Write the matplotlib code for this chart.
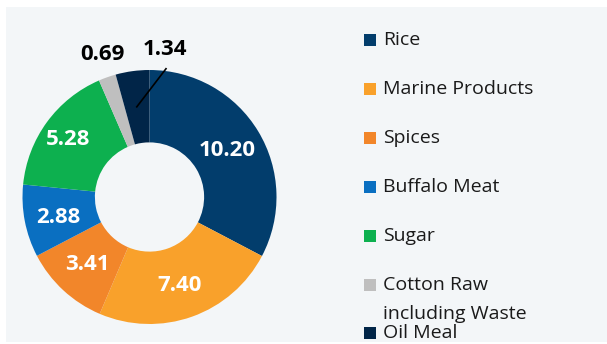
import matplotlib.pyplot as plt
from matplotlib.patches import Rectangle

# export values by commodity
products = ["Rice", "Marine Products", "Spices", "Buffalo Meat", "Sugar",
            "Cotton Raw\nincluding Waste", "Oil Meal"]
values = [10.20, 7.40, 3.41, 2.88, 5.28, 0.69, 1.34]
colors = ["#023d6c", "#f9a12b", "#f2862a", "#0a6fc1", "#0db04f", "#bfbfbf", "#012548"]

plt.rcParams['font.family'] = ['Open Sans', 'DejaVu Sans']

W, H = 607, 344
fig = plt.figure(figsize=(W / 100, H / 100), dpi=100)
fig.patch.set_facecolor("white")

# light panel behind everything
fig.patches.append(Rectangle((6 / W, 2 / H), 1, (H - 9) / H,
                             transform=fig.transFigure, facecolor="#f3f6f8",
                             edgecolor="none", zorder=-5))

# donut axes: centre (149.5, 197), outer radius 127 px
cx, cy, r = 149.5, 197, 127
ax = fig.add_axes([(cx - r) / W, (H - cy - r) / H, 2 * r / W, 2 * r / H])
ax.set_facecolor("none")

ax.pie(values, colors=colors, startangle=90, counterclock=False,
       radius=1.0, wedgeprops=dict(width=0.57, edgecolor="none"))
ax.set_xlim(-1, 1)
ax.set_ylim(-1, 1)
ax.set_aspect("equal")
ax.axis("off")

# value labels inside the ring
inner = [(0.61, 0.37), (0.24, -0.70), (-0.49, -0.53), (-0.72, -0.16),
         (-0.64, 0.45)]
for (x, y), v in zip(inner, values[:5]):
    ax.text(x, y, f"{v:.2f}", color="white", fontsize=16, fontweight="bold",
            ha="center", va="center")

# small slices labelled outside
ax.text(-0.37, 1.12, f"{values[5]:.2f}", color="black", fontsize=16,
        fontweight="bold", ha="center", va="center", clip_on=False)
ax.text(0.12, 1.16, f"{values[6]:.2f}", color="black", fontsize=16,
        fontweight="bold", ha="center", va="center", clip_on=False)
ax.plot([0.13, -0.10], [1.01, 0.71], color="black", lw=1.2, clip_on=False)

# legend down the right side
for i, (name, col) in enumerate(zip(products, colors)):
    y = 40 + 49 * i if i < 6 else 333
    fig.patches.append(Rectangle((364 / W, (H - y - 6) / H), 12 / W, 12 / H,
                                 transform=fig.transFigure, facecolor=col,
                                 edgecolor="none"))
    for j, line in enumerate(name.split("\n")):
        fig.text(383 / W, (H - y - 29 * j) / H, line, fontsize=14,
                 color="#1a1a1a", ha="left", va="center")

fig.savefig("out.png", dpi=100)
